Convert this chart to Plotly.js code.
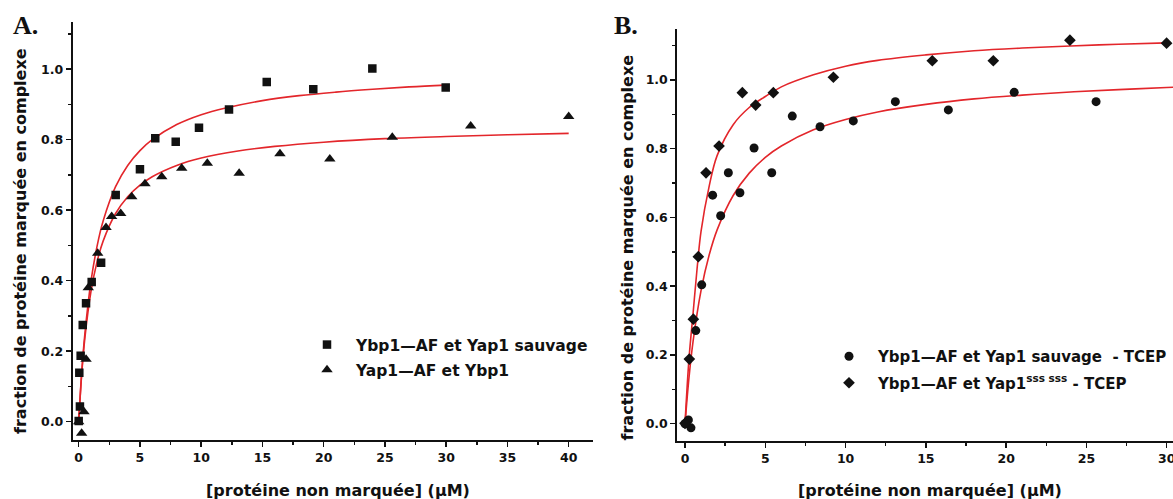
<!DOCTYPE html>
<html><head><meta charset="utf-8">
<script src="https://cdn.plot.ly/plotly-3.0.1.min.js"></script>
<style>html,body{margin:0;padding:0;background:#fff}#c{width:1173px;height:499px}</style>
</head><body><div id="c"></div>
<script>
// Panel A data
const A_sq_x = [0, 0.05, 0.1, 0.16, 0.33, 0.6, 1.06, 1.83, 3.02, 5.0, 6.25, 7.92, 9.82, 12.27, 15.35, 19.15, 23.97, 29.96];
const A_sq_y = [0.002, 0.139, 0.043, 0.187, 0.274, 0.336, 0.396, 0.451, 0.643, 0.716, 0.804, 0.794, 0.834, 0.886, 0.964, 0.943, 1.002, 0.948];
const A_tri_x = [0, 0.24, 0.43, 0.6, 0.78, 1.55, 2.23, 2.69, 3.43, 4.33, 5.41, 6.78, 8.41, 10.5, 13.1, 16.43, 20.5, 25.6, 32.0, 40.0];
const A_tri_y = [0, -0.033, 0.028, 0.177, 0.380, 0.478, 0.551, 0.582, 0.591, 0.638, 0.675, 0.695, 0.719, 0.733, 0.705, 0.760, 0.745, 0.807, 0.839, 0.866];
// Panel A fitted curves
const A_fit_sq_x = [0, 0.25, 0.5, 1, 1.5, 2, 3, 4, 5, 6, 8, 10, 12, 15, 18, 21, 24, 27, 30];
const A_fit_sq_y = [0, 0.142, 0.248, 0.398, 0.498, 0.570, 0.666, 0.727, 0.769, 0.800, 0.843, 0.871, 0.890, 0.911, 0.925, 0.935, 0.943, 0.950, 0.955];
const A_fit_tri_x = [0, 0.25, 0.5, 1, 1.5, 2, 3, 4, 5, 6, 8, 10, 13, 16, 20, 25, 30, 35, 40];
const A_fit_tri_y = [0, 0.137, 0.236, 0.369, 0.454, 0.513, 0.590, 0.638, 0.671, 0.695, 0.727, 0.748, 0.768, 0.781, 0.793, 0.803, 0.809, 0.814, 0.818];
// Panel B data
const B_circ_x = [0, 0.21, 0.37, 0.67, 1.04, 1.72, 2.22, 2.70, 3.42, 4.30, 5.40, 6.68, 8.41, 10.48, 13.1, 16.4, 20.5, 25.6];
const B_circ_y = [0, 0.011, -0.012, 0.271, 0.404, 0.665, 0.605, 0.730, 0.672, 0.802, 0.730, 0.895, 0.864, 0.881, 0.937, 0.913, 0.964, 0.937];
const B_dia_x = [0, 0.27, 0.52, 0.83, 1.31, 2.12, 3.57, 4.40, 5.50, 9.24, 15.4, 19.2, 23.97, 29.99];
const B_dia_y = [0.001, 0.188, 0.304, 0.486, 0.730, 0.808, 0.963, 0.927, 0.963, 1.008, 1.056, 1.056, 1.116, 1.107];
// Panel B fitted curves
const B_fit_circ_x = [0, 0.25, 0.5, 1, 1.5, 2, 3, 4, 5, 6, 8, 10, 12, 15, 18, 21, 24, 27, 30, 31];
const B_fit_circ_y = [0, 0.135, 0.239, 0.388, 0.490, 0.564, 0.664, 0.729, 0.775, 0.808, 0.855, 0.885, 0.907, 0.929, 0.945, 0.956, 0.965, 0.972, 0.978, 0.980];
const B_fit_dia_x = [0, 0.25, 0.5, 0.75, 1, 1.5, 2, 3, 4, 5, 6, 8, 10, 12, 15, 18, 21, 24, 27, 30];
const B_fit_dia_y = [0, 0.19, 0.32, 0.45, 0.56, 0.69, 0.78, 0.87, 0.92, 0.952, 0.98, 1.015, 1.04, 1.057, 1.073, 1.085, 1.093, 1.099, 1.104, 1.108];

const legendA = ["Ybp1\u2014AF et Yap1 sauvage", "Yap1\u2014AF et Ybp1"];
const legendB = ["Ybp1\u2014AF et Yap1 sauvage  - TCEP", "Ybp1\u2014AF et Yap1<sup>sss sss</sup> - TCEP"];
const yTitle = "fraction de prot\u00e9ine marqu\u00e9e en complexe";
const xTitle = "[prot\u00e9ine non marqu\u00e9e] (\u03bcM)";

const RED = '#e3262b';
const INK = '#111111';
const FONT = 'DejaVu Sans';

const traces = [
  {x: A_fit_sq_x, y: A_fit_sq_y, mode: 'lines', line: {color: RED, width: 1.6, shape: 'spline'}, showlegend: false, xaxis: 'x', yaxis: 'y'},
  {x: A_fit_tri_x, y: A_fit_tri_y, mode: 'lines', line: {color: RED, width: 1.6, shape: 'spline'}, showlegend: false, xaxis: 'x', yaxis: 'y'},
  {x: A_sq_x, y: A_sq_y, mode: 'markers', name: legendA[0], marker: {symbol: 'square', size: 8.5, color: INK}, xaxis: 'x', yaxis: 'y', legend: 'legend', legendgroup: 'a1'},
  {x: A_tri_x, y: A_tri_y, mode: 'markers', name: legendA[1], marker: {symbol: 'triangle-up', size: 10, color: INK}, xaxis: 'x', yaxis: 'y', legend: 'legend', legendgroup: 'a2'},
  {x: B_fit_circ_x, y: B_fit_circ_y, mode: 'lines', line: {color: RED, width: 1.6, shape: 'spline'}, showlegend: false, xaxis: 'x2', yaxis: 'y2'},
  {x: B_fit_dia_x, y: B_fit_dia_y, mode: 'lines', line: {color: RED, width: 1.6, shape: 'spline'}, showlegend: false, xaxis: 'x2', yaxis: 'y2'},
  {x: B_circ_x, y: B_circ_y, mode: 'markers', name: legendB[0], marker: {symbol: 'circle', size: 9, color: INK}, xaxis: 'x2', yaxis: 'y2', legend: 'legend2', legendgroup: 'b1'},
  {x: B_dia_x, y: B_dia_y, mode: 'markers', name: legendB[1], marker: {symbol: 'diamond', size: 9, color: INK}, xaxis: 'x2', yaxis: 'y2', legend: 'legend2', legendgroup: 'b2'}
];

function axis(extra) {
  return Object.assign({
    showline: true, linecolor: INK, linewidth: 2, mirror: false,
    ticks: 'outside', ticklen: 5, tickwidth: 1.5, tickcolor: INK,
    showgrid: false, zeroline: false, automargin: false, ticklabeloverflow: 'allow',
    tickfont: {family: FONT, size: 12.5, color: INK, weight: 'bold'}
  }, extra);
}

const W = 1173, H = 499;
const px = v => v / W, py = v => (H - v) / H;

const layout = {
  width: W, height: H,
  margin: {l: 0, r: 0, t: 0, b: 0, autoexpand: false},
  paper_bgcolor: '#fff', plot_bgcolor: '#fff',
  showlegend: true,
  xaxis: axis({domain: [px(72.7), px(592.7)], range: [-0.49, 41.96], dtick: 5, tick0: 0, anchor: 'y',
    minor: {ticks: 'outside', ticklen: 3, tickwidth: 1.5, tickcolor: INK, dtick: 2.5}}),
  yaxis: axis({domain: [py(440), py(22)], range: [-0.052, 1.134], dtick: 0.2, tick0: 0, tickformat: '.1f', anchor: 'x',
    minor: {ticks: 'outside', ticklen: 3, tickwidth: 1.5, tickcolor: INK, dtick: 0.1}}),
  xaxis2: axis({domain: [px(677.3), 1], range: [-0.48, 30.39], dtick: 5, tick0: 0, anchor: 'y2',
    minor: {ticks: 'outside', ticklen: 3, tickwidth: 1.5, tickcolor: INK, dtick: 2.5}}),
  yaxis2: axis({domain: [py(441), py(29.3)], range: [-0.0503, 1.1475], dtick: 0.2, tick0: 0, tickformat: '.1f', anchor: 'x2',
    minor: {ticks: 'outside', ticklen: 3, tickwidth: 1.5, tickcolor: INK, dtick: 0.1}}),
  legend: {x: px(298), y: py(328), xanchor: 'left', yanchor: 'top', bgcolor: 'rgba(0,0,0,0)',
    font: {family: FONT, size: 15.5, color: INK, weight: 'bold'}, itemwidth: 48, traceorder: 'grouped', tracegroupgap: 2},
  legend2: {x: px(820), y: py(340), xanchor: 'left', yanchor: 'top', bgcolor: 'rgba(0,0,0,0)',
    font: {family: FONT, size: 15, color: INK, weight: 'bold'}, itemwidth: 48, traceorder: 'grouped', tracegroupgap: 4},
  annotations: [
    {text: 'A.', xref: 'paper', yref: 'paper', x: px(11), y: py(25), xanchor: 'left', yanchor: 'middle', showarrow: false,
      font: {family: 'Liberation Serif', size: 26, color: INK, weight: 'bold'}},
    {text: 'B.', xref: 'paper', yref: 'paper', x: px(612), y: py(25), xanchor: 'left', yanchor: 'middle', showarrow: false,
      font: {family: 'Liberation Serif', size: 26, color: INK, weight: 'bold'}},
    {text: yTitle, xref: 'paper', yref: 'paper', x: px(20), y: py(241), xanchor: 'center', yanchor: 'middle', textangle: -90, showarrow: false,
      font: {family: FONT, size: 16, color: INK, weight: 'bold'}},
    {text: yTitle, xref: 'paper', yref: 'paper', x: px(627), y: py(247.5), xanchor: 'center', yanchor: 'middle', textangle: -90, showarrow: false,
      font: {family: FONT, size: 16, color: INK, weight: 'bold'}},
    {text: xTitle, xref: 'paper', yref: 'paper', x: px(338), y: py(490), xanchor: 'center', yanchor: 'middle', showarrow: false,
      font: {family: FONT, size: 16, color: INK, weight: 'bold'}},
    {text: xTitle, xref: 'paper', yref: 'paper', x: px(930), y: py(490), xanchor: 'center', yanchor: 'middle', showarrow: false,
      font: {family: FONT, size: 16, color: INK, weight: 'bold'}}
  ]
};

Plotly.newPlot('c', traces, layout, {staticPlot: true, displayModeBar: false});
</script>
</body></html>
